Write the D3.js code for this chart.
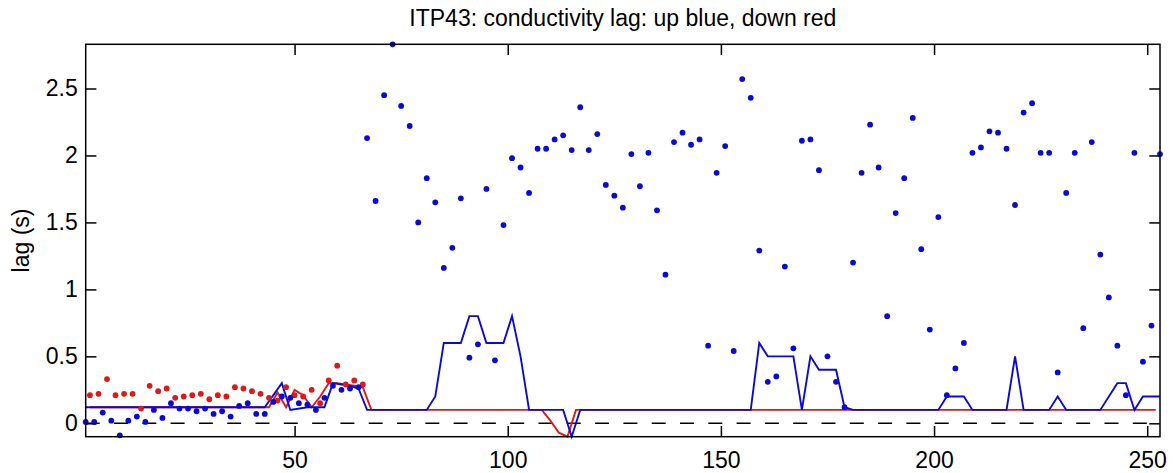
<!DOCTYPE html>
<html>
<head>
<meta charset="utf-8">
<script src="https://cdn.jsdelivr.net/npm/d3@7"></script>
<style>
  body { margin: 0; background: #fff; }
  text { font-family: "Liberation Sans", Arial, Helvetica, sans-serif; fill: #000; }
</style>
</head>
<body>
<script>
// profile numbers: up casts are odd, down casts are even
var upProfile = d3.range(1, 254, 2);
var downProfile = d3.range(2, 67, 2);

// lag of each up cast (blue dots)
var upLag = [
  0.01, 0.01, 0.08, 0.02, -0.09, 0.02, 0.05, 0.01, 0.10, 0.04,
  0.15, 0.11, 0.11, 0.09, 0.11, 0.07, 0.09, 0.05, 0.13, 0.15,
  0.07, 0.07, 0.16, 0.20, 0.19, 0.15, 0.14, 0.10, 0.19, 0.28,
  0.25, 0.26, 0.27,
  2.13, 1.66, 2.45, 2.83, 2.37, 2.22, 1.50, 1.83, 1.65, 1.16,
  1.31, 1.68, 0.49, 0.59, 1.75, 0.47, 1.48, 1.98, 1.91, 1.72,
  2.05, 2.05, 2.12, 2.15, 2.04, 2.36, 2.04, 2.16, 1.78, 1.70,
  1.61, 2.01, 1.77, 2.02, 1.59, 1.11, 2.10, 2.17, 2.08, 2.12,
  0.58, 1.87, 2.07, 0.54, 2.57, 2.43, 1.29, 0.31, 0.35, 1.17,
  0.56, 2.11, 2.12, 1.89, 0.50, 0.31, 0.12, 1.20, 1.87, 2.23,
  1.91, 0.80, 1.57, 1.83, 2.28, 1.30, 0.70, 1.54, 0.21, 0.41,
  0.60, 2.02, 2.06, 2.18, 2.17, 2.05, 1.63, 2.32, 2.39, 2.02,
  2.02, 0.38, 1.72, 2.02, 0.71, 2.10, 1.26, 0.94, 0.58, 0.21,
  2.02, 0.46, 0.73, 2.01
];

// lag of each down cast (red dots)
var downLag = [
  0.21, 0.22, 0.33, 0.21, 0.22, 0.22, 0.11, 0.28, 0.24, 0.26,
  0.19, 0.20, 0.21, 0.22, 0.18, 0.21, 0.20, 0.27, 0.26, 0.24,
  0.22, 0.19, 0.17, 0.27, 0.21, 0.20, 0.25, 0.15, 0.32, 0.43,
  0.29, 0.32, 0.29
];

// lag actually used (lines)
var upUsedProfile = [1, 43, 47, 49, 53, 57, 59, 61, 63, 65, 67, 81, 83, 85, 89, 91, 93, 95, 99, 101,
  103, 105, 113, 115, 117, 157, 159, 161, 167, 169, 171, 173, 177, 179, 181, 201, 203, 207, 209, 217,
  219, 221, 227, 229, 231, 239, 243, 245, 247, 249, 253];
var upUsedLag = [0.12, 0.12, 0.30, 0.10, 0.12, 0.12, 0.30, 0.29, 0.28, 0.26, 0.10, 0.10, 0.20, 0.60, 0.60, 0.80, 0.80, 0.60, 0.60, 0.80,
  0.50, 0.10, 0.10, -0.10, 0.10, 0.10, 0.60, 0.50, 0.50, 0.10, 0.50, 0.40, 0.40, 0.12, 0.10, 0.10, 0.20, 0.20, 0.10, 0.10,
  0.50, 0.10, 0.10, 0.20, 0.10, 0.10, 0.30, 0.30, 0.10, 0.20, 0.20];

var downUsedProfile = [2, 44, 46, 48, 50, 52, 54, 56, 58, 60, 62, 64, 66, 68, 108, 110, 112, 114, 116, 252];
var downUsedLag = [0.12, 0.12, 0.23, 0.12, 0.25, 0.21, 0.12, 0.20, 0.30, 0.30, 0.29, 0.28, 0.27, 0.10, 0.10, 0.02, -0.07, -0.10, 0.10, 0.10];

var xTicks = [50, 100, 150, 200, 250];
var yTicks = [0, 0.5, 1, 1.5, 2, 2.5];

var width = 1173, height = 473;
var margin = {top: 44.3, right: 13, bottom: 36.3, left: 85.7};
var blue = "#0a0ad8", red = "#e01818";
var tickLen = 10.7;
var fontSize = 23;

var svg = d3.select("body")
  .append("svg")
  .attr("width", width)
  .attr("height", height);

var x = d3.scaleLinear().domain([1, 253]).range([margin.left, width - margin.right]);
var y = d3.scaleLinear().domain([-0.1, 2.83]).range([height - margin.bottom, margin.top]);

// zero line
svg.append("line")
  .attr("x1", x.range()[0]).attr("x2", x.range()[1])
  .attr("y1", y(0)).attr("y2", y(0))
  .attr("stroke", "#000")
  .attr("stroke-width", 1.5)
  .attr("stroke-dasharray", "14,14.3");

var line = d3.line()
  .x(function(d) { return x(d[0]); })
  .y(function(d) { return y(d[1]); });

svg.append("path")
  .datum(d3.zip(downUsedProfile, downUsedLag))
  .attr("d", line)
  .attr("fill", "none")
  .attr("stroke", red)
  .attr("stroke-width", 1.9);

svg.append("path")
  .datum(d3.zip(upUsedProfile, upUsedLag))
  .attr("d", line)
  .attr("fill", "none")
  .attr("stroke", blue)
  .attr("stroke-width", 1.9);

svg.append("g")
  .selectAll("circle")
  .data(d3.zip(downProfile, downLag))
  .enter()
  .append("circle")
  .attr("cx", function(d) { return x(d[0]); })
  .attr("cy", function(d) { return y(d[1]); })
  .attr("r", 2.9)
  .attr("fill", red);

svg.append("g")
  .selectAll("circle")
  .data(d3.zip(upProfile, upLag))
  .enter()
  .append("circle")
  .attr("cx", function(d) { return x(d[0]); })
  .attr("cy", function(d) { return y(d[1]); })
  .attr("r", 2.9)
  .attr("fill", blue);

// axes, ticks pointing inward on all four sides
var fmt = function(d) { return d3.format("")(d); };

svg.append("g")
  .attr("transform", "translate(0," + y.range()[0] + ")")
  .call(d3.axisBottom(x).tickValues(xTicks).tickSizeInner(-tickLen).tickSizeOuter(0).tickPadding(15))
  .call(function(g) { g.select(".domain").remove(); });

svg.append("g")
  .attr("transform", "translate(0," + y.range()[1] + ")")
  .call(d3.axisTop(x).tickValues(xTicks).tickSizeInner(-tickLen).tickSizeOuter(0).tickFormat(""))
  .call(function(g) { g.select(".domain").remove(); });

svg.append("g")
  .attr("transform", "translate(" + x.range()[0] + ",0)")
  .call(d3.axisLeft(y).tickValues(yTicks).tickFormat(fmt).tickSizeInner(-tickLen).tickSizeOuter(0).tickPadding(8))
  .call(function(g) { g.select(".domain").remove(); });

svg.append("g")
  .attr("transform", "translate(" + x.range()[1] + ",0)")
  .call(d3.axisRight(y).tickValues(yTicks).tickSizeInner(-tickLen).tickSizeOuter(0).tickFormat(""))
  .call(function(g) { g.select(".domain").remove(); });

svg.selectAll(".tick line").attr("stroke", "#000").attr("stroke-width", 1.5);
svg.selectAll(".tick text")
  .attr("font-size", fontSize)
  .attr("font-family", "Liberation Sans, Arial, sans-serif")
  .attr("fill", "#000");

svg.append("rect")
  .attr("x", x.range()[0])
  .attr("y", y.range()[1])
  .attr("width", x.range()[1] - x.range()[0])
  .attr("height", y.range()[0] - y.range()[1])
  .attr("fill", "none")
  .attr("stroke", "#000")
  .attr("stroke-width", 1.5);

svg.append("text")
  .attr("x", (x.range()[0] + x.range()[1]) / 2)
  .attr("y", 26)
  .attr("text-anchor", "middle")
  .attr("font-size", fontSize)
  .text("ITP43: conductivity lag: up blue, down red");

svg.append("text")
  .attr("transform", "translate(29," + (y.range()[0] + y.range()[1]) / 2 + ") rotate(-90)")
  .attr("text-anchor", "middle")
  .attr("font-size", fontSize)
  .text("lag (s)");
</script>
</body>
</html>
